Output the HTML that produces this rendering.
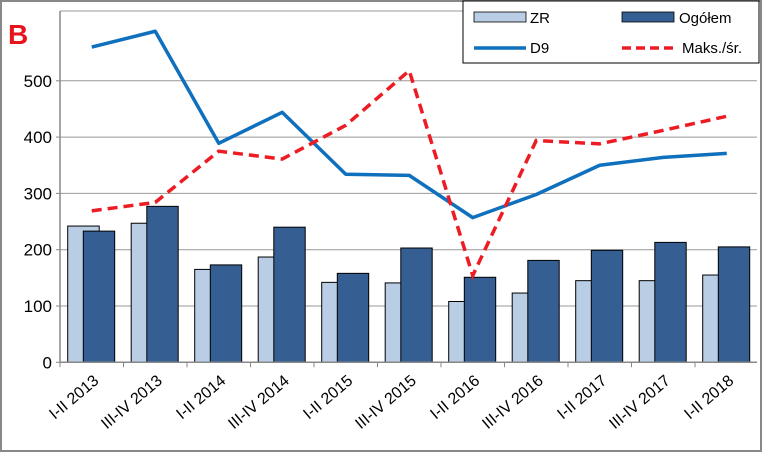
<!DOCTYPE html>
<html><head><meta charset="utf-8"><style>
body{margin:0;background:#fff}
svg{display:block;font-family:"Liberation Sans",Arial,sans-serif}
</style></head><body>
<svg width="762" height="452" viewBox="0 0 762 452">
<rect x="1" y="1" width="760" height="450" fill="#fff" stroke="#888" stroke-width="2"/>
<text x="8" y="44" font-size="28" font-weight="bold" fill="#e8141c">B</text>
<g id="grid"></g><g id="bars"></g><g id="lines"></g><g id="axes"></g>
<g>
<rect x="463" y="1" width="296" height="62" fill="#fff" stroke="#000" stroke-width="1"/>
<rect x="474" y="12" width="52" height="10" fill="#b9cde4" stroke="#000" stroke-width="0.8"/>
<text x="530" y="23" font-size="15">ZR</text>
<rect x="622" y="12" width="52" height="10" fill="#355f92" stroke="#000" stroke-width="0.8"/>
<text x="679" y="23" font-size="15">Ogółem</text>
<line x1="474" y1="48" x2="526" y2="48" stroke="#0f70bd" stroke-width="3.5"/>
<text x="530" y="53" font-size="15">D9</text>
<line x1="622" y1="48" x2="676" y2="48" stroke="#ed1c24" stroke-width="3.5" stroke-dasharray="9,5"/>
<text x="682" y="53" font-size="15">Maks./śr.</text>
</g>
</svg>
<script>
const categories=["I-II 2013","III-IV 2013","I-II 2014","III-IV 2014","I-II 2015","III-IV 2015","I-II 2016","III-IV 2016","I-II 2017","III-IV 2017","I-II 2018"];
const zr=[242,247,165,187,142,141,108,123,145,145,155];
const ogolem=[233,277,173,240,158,203,151,181,199,213,205];
const d9=[560,588,389,444,334,332,257,298,350,364,371];
const maks=[269,284,375,361,421,518,154,394,388,412,437];
const yTicks=[0,100,200,300,400,500];
const NS="http://www.w3.org/2000/svg";
const x0=60,cw=63.5,y0=362.3,k=0.563;
const X=i=>x0+i*cw, Y=v=>y0-v*k;
function mk(p,t,a){const e=document.createElementNS(NS,t);for(const q in a)e.setAttribute(q,a[q]);document.getElementById(p).appendChild(e);return e;}
let e=mk("grid","line",{x1:x0,x2:757,y1:11,y2:11,stroke:"#999","stroke-width":1});


yTicks.forEach(v=>{
 if(v>0){const g=mk("grid","line",{x1:x0,x2:757,y1:Y(v),y2:Y(v),stroke:"#999","stroke-width":1});
 
 }
 const t=mk("axes","text",{x:x0-8,y:Y(v)+6,"text-anchor":"end","font-size":17});
 t.textContent=v;
 
 
 const tk=mk("axes","line",{x1:x0-4,x2:x0,y1:Y(v),y2:Y(v),stroke:"#888"});
 
 
});
categories.forEach((c,i)=>{
 const b1=mk("bars","rect",{x:X(i)+7.7,y:Y(zr[i]),width:31.5,height:zr[i]*k,fill:"#b9cde4",stroke:"#000","stroke-width":1});
 
 
 const b2=mk("bars","rect",{x:X(i)+23.3,y:Y(ogolem[i]),width:31.4,height:ogolem[i]*k,fill:"#355f92",stroke:"#000","stroke-width":1});
 
 
 const tk=mk("axes","line",{x1:X(i),x2:X(i),y1:y0,y2:y0+5,stroke:"#888"});
 
 
 const cx=X(i)+cw/2+8,cy=y0+20;
 const t=mk("axes","text",{x:cx,y:cy,"text-anchor":"end","font-size":16,transform:`rotate(-40 ${cx} ${cy})`});
 t.textContent=c;
 
 
});
const ax=mk("axes","line",{x1:x0,x2:757,y1:y0,y2:y0,stroke:"#888","stroke-width":1.5});


const ay=mk("axes","line",{x1:x0,x2:x0,y1:11,y2:y0,stroke:"#888","stroke-width":1.5});


const pts=a=>a.map((v,i)=>(X(i)+cw/2)+","+Y(v)).join(" ");
const l1=mk("lines","polyline",{points:pts(d9),fill:"none",stroke:"#0f70bd","stroke-width":3.5,"stroke-linejoin":"round"});


const l2=mk("lines","polyline",{points:pts(maks),fill:"none",stroke:"#ed1c24","stroke-width":3.5,"stroke-dasharray":"10,6"});


</script>
</body></html>
